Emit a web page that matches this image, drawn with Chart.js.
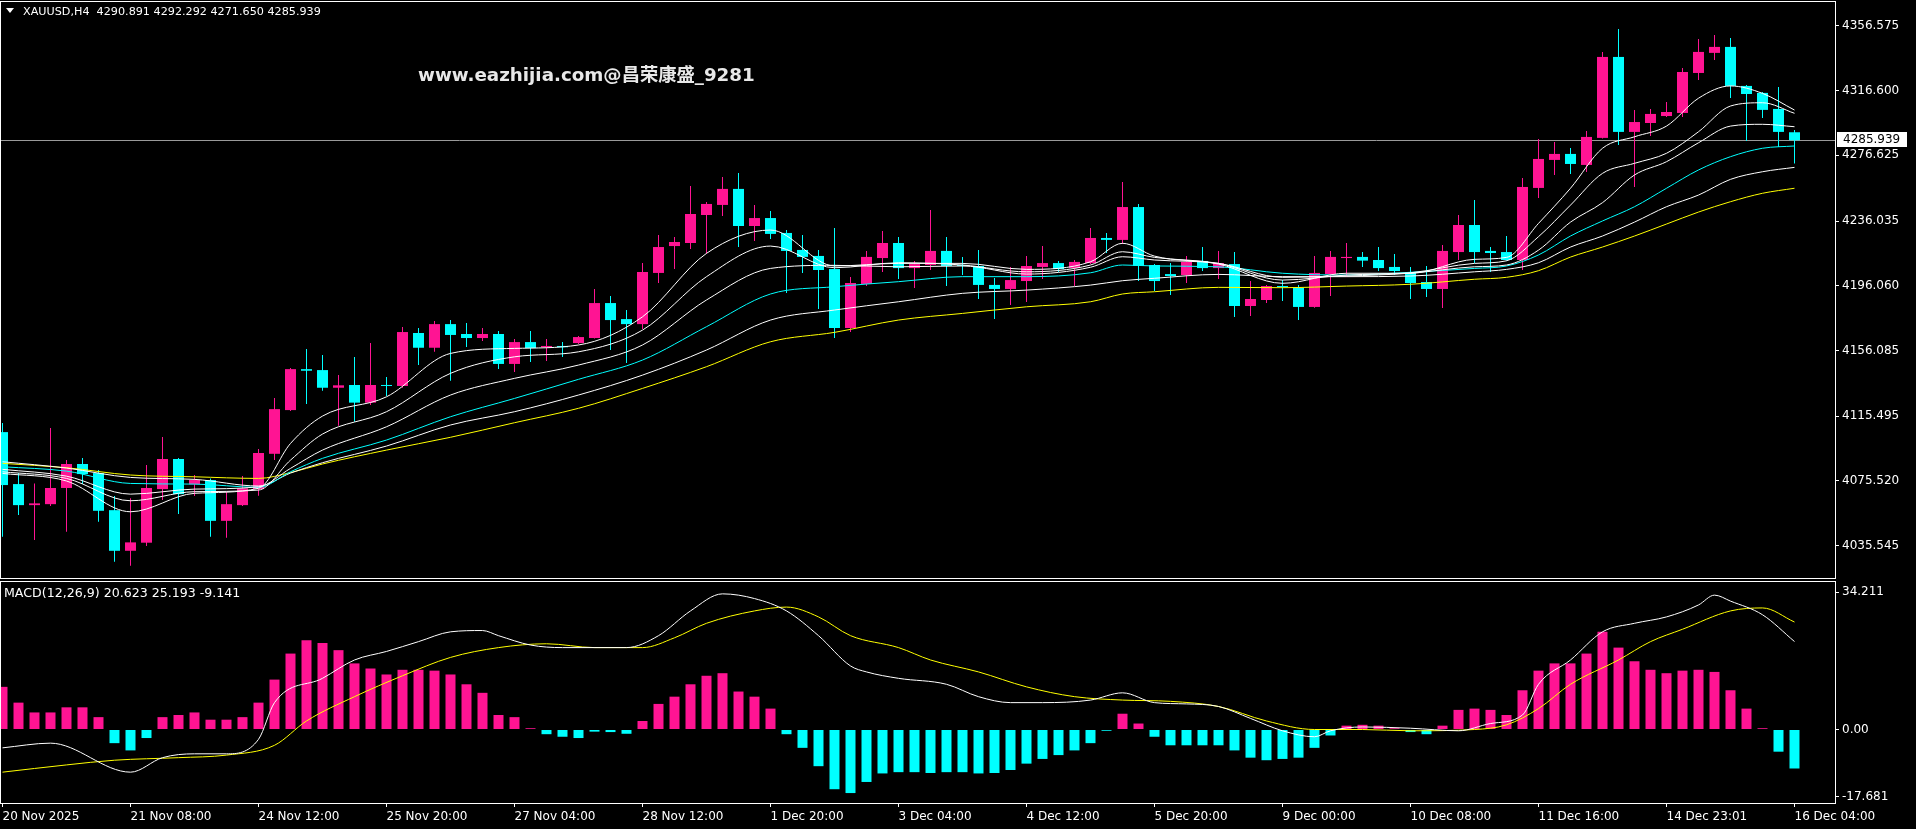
<!DOCTYPE html>
<html>
<head>
<meta charset="utf-8">
<script src="https://cdn.jsdelivr.net/npm/chart.js@4.4.1/dist/chart.umd.min.js"></script>
<style>
html, body { margin: 0; padding: 0; background: #000; overflow: hidden; }
#wrap { position: relative; width: 1916px; height: 829px; }
canvas { position: absolute; left: 0; }
#main { top: 0; }
#macd { top: 580px; }
</style>
</head>
<body>
<div id="wrap">
    <canvas id="main" width="1916" height="580"></canvas>
    <canvas id="macd" width="1916" height="249"></canvas>
</div>
<script>
// XAUUSD H4 candles, one per bar index
const opens = [4105.7, 4073.6, 4060.6, 4061.2, 4071.2, 4086.0, 4080.4, 4057.5, 4032.4, 4037.4,
    4070.5, 4089.1, 4073.4, 4076.1, 4050.9, 4060.6, 4070.5, 4092.3, 4119.3, 4144.6,
    4144.0, 4133.1, 4134.8, 4123.9, 4134.8, 4134.2, 4166.9, 4157.8, 4172.4, 4166.3,
    4163.8, 4166.3, 4147.8, 4161.3, 4158.1, 4158.9, 4160.7, 4163.8, 4185.4, 4175.5,
    4172.4, 4204.0, 4220.6, 4222.5, 4239.8, 4246.0, 4255.9, 4233.0, 4237.9, 4228.7,
    4218.2, 4214.5, 4206.4, 4170.0, 4197.2, 4213.2, 4222.5, 4207.0, 4208.9, 4217.6,
    4208.9, 4208.3, 4196.6, 4194.1, 4199.0, 4207.7, 4210.1, 4207.0, 4210.1, 4225.6,
    4224.4, 4244.7, 4208.9, 4203.3, 4202.7, 4211.4, 4207.0, 4209.5, 4183.6, 4187.3,
    4195.9, 4194.7, 4183.0, 4203.3, 4213.2, 4213.9, 4212.0, 4207.7, 4204.6, 4198.4,
    4194.1, 4216.9, 4233.6, 4217.6, 4216.9, 4212.0, 4256.5, 4273.8, 4277.5, 4270.7,
    4287.4, 4337.4, 4291.1, 4296.6, 4300.9, 4302.8, 4327.5, 4339.9, 4343.6, 4319.5,
    4315.2, 4305.3, 4290.891];
const highs = [4111.3, 4080.4, 4074.0, 4108.2, 4088.4, 4089.7, 4082.3, 4066.2, 4064.8, 4085.4,
    4102.7, 4089.7, 4079.2, 4077.1, 4068.9, 4078.6, 4095.2, 4126.7, 4145.3, 4157.0,
    4153.3, 4141.0, 4152.1, 4160.7, 4139.7, 4170.6, 4170.0, 4174.3, 4174.9, 4173.1,
    4170.0, 4168.1, 4163.2, 4168.1, 4163.2, 4161.3, 4165.0, 4194.1, 4189.8, 4181.1,
    4210.1, 4227.4, 4226.2, 4257.7, 4247.8, 4263.3, 4265.7, 4246.0, 4242.3, 4230.5,
    4227.4, 4218.2, 4231.8, 4201.5, 4217.6, 4229.9, 4226.2, 4211.4, 4242.9, 4226.2,
    4213.9, 4218.2, 4200.9, 4207.7, 4214.5, 4220.6, 4211.4, 4212.0, 4231.8, 4228.7,
    4260.2, 4246.6, 4209.5, 4210.1, 4214.5, 4220.0, 4217.6, 4216.9, 4199.0, 4196.6,
    4199.6, 4196.6, 4214.5, 4217.6, 4222.5, 4216.9, 4220.0, 4215.7, 4207.7, 4208.3,
    4221.3, 4239.8, 4249.0, 4220.0, 4226.8, 4262.6, 4286.7, 4284.9, 4281.2, 4291.7,
    4340.5, 4354.7, 4304.7, 4305.3, 4309.6, 4330.6, 4348.5, 4351.0, 4349.1, 4320.1,
    4315.8, 4318.9, 4292.292];
const lows = [4041.1, 4054.5, 4039.0, 4060.0, 4044.2, 4073.6, 4050.3, 4025.6, 4023.2, 4035.3,
    4063.7, 4055.1, 4066.2, 4041.1, 4040.4, 4060.0, 4066.4, 4088.4, 4118.7, 4123.0,
    4131.2, 4109.6, 4112.1, 4122.4, 4128.0, 4133.1, 4147.1, 4155.4, 4137.4, 4158.3,
    4162.0, 4144.6, 4142.8, 4149.0, 4149.6, 4152.1, 4160.1, 4163.5, 4156.4, 4148.4,
    4169.4, 4197.8, 4206.4, 4218.8, 4215.9, 4239.2, 4220.0, 4223.7, 4225.0, 4191.6,
    4204.0, 4181.7, 4163.8, 4167.5, 4195.9, 4204.6, 4200.3, 4194.7, 4205.8, 4195.9,
    4202.7, 4187.9, 4175.5, 4184.2, 4186.1, 4200.3, 4204.6, 4195.9, 4209.5, 4216.3,
    4221.9, 4199.0, 4192.8, 4190.4, 4197.8, 4205.2, 4200.3, 4176.8, 4177.4, 4185.4,
    4186.7, 4174.9, 4182.5, 4189.8, 4201.5, 4207.7, 4205.2, 4202.7, 4187.9, 4189.1,
    4182.3, 4212.0, 4210.1, 4204.6, 4211.5, 4205.8, 4250.3, 4264.5, 4265.1, 4266.4,
    4287.0, 4283.0, 4257.1, 4288.6, 4300.3, 4300.3, 4323.2, 4335.5, 4312.1, 4285.5,
    4299.7, 4281.8, 4271.650];
const closes = [4073.0, 4060.6, 4061.7, 4071.2, 4086.0, 4079.8, 4057.1, 4032.4, 4037.6, 4071.2,
    4089.1, 4067.4, 4076.1, 4050.9, 4061.2, 4071.0, 4092.8, 4119.9, 4144.6, 4143.6,
    4133.1, 4134.6, 4123.9, 4134.8, 4134.2, 4167.5, 4157.8, 4172.4, 4165.7, 4163.8,
    4166.3, 4147.8, 4161.3, 4157.6, 4158.9, 4158.1, 4164.4, 4185.4, 4174.9, 4172.4,
    4204.6, 4220.0, 4223.1, 4240.4, 4246.6, 4255.9, 4233.0, 4237.9, 4228.1, 4217.6,
    4213.9, 4205.8, 4170.0, 4197.8, 4213.9, 4222.5, 4207.0, 4209.5, 4217.6, 4208.3,
    4208.3, 4196.6, 4194.1, 4199.6, 4208.3, 4210.1, 4206.4, 4210.8, 4225.6, 4224.4,
    4244.7, 4208.3, 4199.0, 4202.1, 4210.8, 4207.0, 4210.1, 4183.6, 4187.9, 4195.9,
    4195.3, 4183.0, 4204.0, 4213.9, 4213.9, 4211.6, 4207.0, 4205.2, 4197.8, 4194.1,
    4217.6, 4233.6, 4216.9, 4216.3, 4212.0, 4257.1, 4274.4, 4277.5, 4271.3, 4288.0,
    4337.4, 4291.1, 4297.2, 4302.2, 4303.4, 4328.1, 4340.5, 4343.6, 4319.5, 4314.5,
    4304.7, 4291.1, 4285.939];

// moving averages, read at these bar indices
const maIdx = [0, 4, 8, 12, 16, 18, 20, 24, 28, 32, 36, 40, 44, 48, 52, 56, 60, 64, 68, 70,
    72, 76, 80, 84, 88, 92, 94, 96, 98, 100, 102, 104, 106, 108, 110, 112];
const ma1 = [4080.2, 4075.5, 4056.5, 4067.9, 4071.0, 4098.7, 4115.6, 4127.5, 4154.3, 4157.4,
    4159.5, 4176.9, 4216.1, 4230.5, 4208.3, 4209.9, 4209.9, 4206.2, 4210.9, 4222.3,
    4214.4, 4209.5, 4197.6, 4203.8, 4203.8, 4212.4, 4213.6, 4234.6, 4256.3, 4281.0,
    4288.1, 4294.7, 4311.9, 4319.5, 4314.9, 4304.6];
const ma2 = [4081.2, 4077.1, 4063.3, 4068.9, 4069.9, 4088.4, 4104.5, 4118.3, 4142.0, 4152.2,
    4155.3, 4168.7, 4201.7, 4220.6, 4207.2, 4210.3, 4208.9, 4204.7, 4208.9, 4217.1,
    4213.6, 4209.9, 4199.6, 4202.7, 4204.1, 4209.9, 4211.5, 4226.4, 4245.9, 4265.5,
    4271.7, 4277.9, 4291.2, 4307.1, 4309.1, 4302.6];
const ma3 = [4082.7, 4078.5, 4067.4, 4070.5, 4071.9, 4083.3, 4094.6, 4109.0, 4128.6, 4138.9,
    4147.1, 4159.5, 4187.3, 4206.8, 4208.7, 4207.8, 4208.3, 4203.3, 4207.5, 4214.0,
    4212.0, 4209.9, 4201.3, 4202.1, 4203.8, 4207.8, 4208.9, 4218.1, 4235.4, 4247.4,
    4264.5, 4272.7, 4284.4, 4294.7, 4295.8, 4294.3];
const ma4 = [4084.3, 4081.6, 4074.0, 4073.6, 4071.6, 4081.2, 4089.5, 4100.8, 4115.2, 4126.5,
    4138.3, 4150.2, 4170.8, 4191.0, 4195.5, 4198.6, 4201.7, 4201.7, 4204.1, 4208.9,
    4208.3, 4207.8, 4203.8, 4202.7, 4204.4, 4206.8, 4208.3, 4215.1, 4226.8, 4236.1,
    4244.9, 4256.3, 4267.6, 4275.8, 4281.0, 4282.4];
const ma5 = [4087.4, 4083.5, 4077.7, 4076.5, 4072.4, 4080.4, 4086.8, 4097.1, 4110.1, 4118.3,
    4128.6, 4140.9, 4156.4, 4174.9, 4181.1, 4186.2, 4191.4, 4193.4, 4196.5, 4199.2,
    4200.7, 4203.1, 4201.7, 4201.7, 4202.1, 4204.7, 4206.2, 4210.3, 4220.0, 4226.8,
    4235.4, 4244.9, 4252.1, 4261.8, 4266.5, 4269.2];
const ma6 = [4086.4, 4083.7, 4079.2, 4078.1, 4077.1, 4080.7, 4086.0, 4094.6, 4102.5, 4111.5,
    4120.4, 4132.7, 4146.1, 4161.5, 4167.3, 4174.9, 4179.0, 4183.1, 4186.2, 4191.0,
    4192.4, 4195.1, 4194.9, 4195.9, 4197.0, 4200.1, 4201.3, 4205.4, 4213.8, 4220.0,
    4226.8, 4234.2, 4241.6, 4248.0, 4253.2, 4256.3];

// MACD(12,26,9)
const macdHist = [10.0, 6.3, 4.0, 4.0, 5.2, 5.2, 2.9, -3.2, -4.9, -2.0,
    2.9, 3.4, 4.0, 2.3, 2.3, 2.9, 6.3, 11.7, 17.8, 20.9,
    20.3, 18.6, 15.5, 14.3, 12.9, 14.0, 14.0, 13.8, 12.9, 10.6,
    8.6, 3.4, 2.9, 0.3, -1.1, -1.7, -2.0, -0.5, -0.6, -1.0,
    2.0, 6.0, 7.7, 10.6, 12.6, 13.2, 8.9, 7.7, 4.9, -1.1,
    -4.3, -8.6, -14.0, -14.9, -12.3, -10.3, -10.0, -10.0, -10.2, -10.0,
    -10.0, -10.3, -10.2, -9.5, -8.0, -6.9, -6.0, -4.9, -3.2, -0.3,
    3.7, 1.4, -1.7, -3.7, -3.7, -3.7, -3.7, -4.9, -6.6, -7.2,
    -6.9, -6.6, -4.3, -1.4, 0.9, 1.1, 0.9, 0.3, -0.6, -1.1,
    0.9, 4.6, 4.9, 4.6, 3.4, 9.2, 13.8, 15.5, 15.5, 17.8,
    22.9, 19.2, 16.0, 14.0, 13.2, 13.8, 14.0, 13.5, 9.2, 4.9,
    0.3, -5.2, -9.141];
const difIdx = [0, 3, 8, 10, 12, 14, 16, 17, 20, 22, 24, 26, 28, 30, 31, 33, 35, 39, 41, 43,
    45, 47, 49, 51, 53, 54, 56, 59, 61, 63, 65, 68, 70, 72, 74, 76, 78, 80, 82, 83,
    85, 88, 91, 93, 95, 96, 98, 100, 102, 104, 106, 107, 108, 110, 112];
const difVals = [-4.3, -3.2, -10.0, -6.6, -5.7, -5.7, -2.3, 6.3, 12.0, 16.3, 18.3, 20.6, 22.9, 23.2, 22.0, 19.8, 19.2, 19.2, 22.0, 27.8,
    31.8, 30.7, 27.8, 22.0, 14.9, 13.5, 12.0, 10.6, 7.7, 6.3, 6.3, 6.9, 8.6, 6.3, 6.0, 5.4, 2.6, -0.3, -1.7, -0.3,
    0.6, 0.3, -0.3, 1.4, 3.4, 10.6, 16.3, 22.9, 24.9, 26.4, 29.2, 31.5, 30.1, 26.9, 20.623];
const deaIdx = [0, 4, 7, 11, 14, 17, 19, 22, 25, 28, 31, 34, 37, 40, 42, 44, 47, 49, 51, 53,
    56, 58, 61, 64, 67, 70, 73, 76, 79, 82, 85, 88, 92, 94, 96, 98, 101, 103, 105, 108, 110, 112];
const deaVals = [-10.0, -8.3, -7.2, -6.6, -6.0, -3.7, 2.0, 7.7, 12.6, 16.9, 19.2, 20.1, 19.2, 19.2, 21.5, 24.9, 27.8, 28.7, 26.4, 22.0,
    19.2, 16.3, 13.5, 10.0, 7.7, 6.9, 6.6, 5.4, 2.0, 0.0, 0.0, -0.3, 0.0, 1.1, 4.9, 10.6, 16.3, 20.6, 23.5, 27.8, 28.5, 25.193];

// axis labels
const priceTicks = [4356.575, 4316.600, 4276.625, 4236.035, 4196.060, 4156.085, 4115.495, 4075.520, 4035.545];
const macdTickLabels = ['34.211', '0.00', '-17.681'];
const macdTickPos = [32.17, 0, -15.76];
const timeTickIdx = [0, 8, 16, 24, 32, 40, 48, 56, 64, 72, 80, 88, 96, 104, 112];
const timeLabels = ['20 Nov 2025', '21 Nov 08:00', '24 Nov 12:00', '25 Nov 20:00', '27 Nov 04:00',
    '28 Nov 12:00', '1 Dec 20:00', '3 Dec 04:00', '4 Dec 12:00', '5 Dec 20:00',
    '9 Dec 00:00', '10 Dec 08:00', '11 Dec 16:00', '14 Dec 23:01', '16 Dec 04:00'];

const FONT = { family: 'DejaVu Sans', size: 12 };
const UP = '#ff1493', DOWN = '#00ffff';
const xMin = -0.09375;
const xMax = xMin + 1834 / 16;
const lastClose = closes[closes.length - 1];
const candleColors = closes.map((c, i) => c >= opens[i] ? UP : DOWN);

function lineSet(idx, vals, color) {
    return {
        type: 'line',
        data: idx.map((k, i) => ({ x: k, y: vals[i] })),
        borderColor: color,
        borderWidth: 1,
        pointRadius: 0,
        cubicInterpolationMode: 'monotone',
        order: 0
    };
}

// no auto padding for edge labels: the plot must fill its panel
function noPad(s) {
    s.paddingTop = 0;
    s.paddingBottom = 0;
    s.paddingLeft = 0;
    s.paddingRight = 0;
}

const mainDecor = {
    id: 'mainDecor',
    beforeDatasetsDraw(chart) {
        const ctx = chart.ctx;
        const y = Math.round(chart.scales.y.getPixelForValue(lastClose)) + 0.5;
        ctx.save();
        ctx.strokeStyle = '#9a9a9a';
        ctx.lineWidth = 1;
        ctx.beginPath();
        ctx.moveTo(1, y);
        ctx.lineTo(1835, y);
        ctx.stroke();
        ctx.restore();
    },
    afterDraw(chart) {
        const ctx = chart.ctx;
        ctx.save();
        ctx.strokeStyle = '#ffffff';
        ctx.lineWidth = 1;
        ctx.strokeRect(0.5, 1.5, 1835, 577);

        // symbol header
        ctx.fillStyle = '#ffffff';
        ctx.beginPath();
        ctx.moveTo(6, 8);
        ctx.lineTo(14, 8);
        ctx.lineTo(10, 13);
        ctx.closePath();
        ctx.fill();
        ctx.font = '11.2px "DejaVu Sans"';
        ctx.textBaseline = 'middle';
        ctx.fillText('XAUUSD,H4  ' + opens[112].toFixed(3) + ' ' + highs[112].toFixed(3) + ' ' +
            lows[112].toFixed(3) + ' ' + lastClose.toFixed(3), 23, 12);

        // watermark
        ctx.fillStyle = '#e8e8e8';
        ctx.font = 'bold 18.3px "DejaVu Sans", "Noto Sans CJK SC"';
        ctx.fillText('www.eazhijia.com@昌荣康盛_9281', 418, 76);

        // current price box
        const y = Math.round(chart.scales.y.getPixelForValue(lastClose));
        ctx.fillStyle = '#ffffff';
        ctx.fillRect(1837, y - 8, 70, 15);
        ctx.fillStyle = '#000000';
        ctx.font = '12px "DejaVu Sans"';
        ctx.fillText(lastClose.toFixed(3), 1843, y);
        ctx.restore();
    }
};

const macdDecor = {
    id: 'macdDecor',
    afterDraw(chart) {
        const ctx = chart.ctx;
        ctx.save();
        ctx.strokeStyle = '#ffffff';
        ctx.lineWidth = 1;
        ctx.strokeRect(0.5, 1.5, 1835, 222);
        ctx.fillStyle = '#ffffff';
        ctx.font = '12.6px "DejaVu Sans"';
        ctx.textBaseline = 'middle';
        ctx.fillText('MACD(12,26,9) ' + difVals[difVals.length - 1].toFixed(3) + ' ' +
            deaVals[deaVals.length - 1].toFixed(3) + ' ' + macdHist[macdHist.length - 1].toFixed(3), 4, 14);
        ctx.restore();
    }
};

new Chart(document.getElementById('main'), {
    type: 'bar',
    data: {
        datasets: [
            lineSet(maIdx, ma1, '#ffffff'),
            lineSet(maIdx, ma2, '#ffffff'),
            lineSet(maIdx, ma3, '#ffffff'),
            lineSet(maIdx, ma4, '#00ffff'),
            lineSet(maIdx, ma5, '#ffffff'),
            lineSet(maIdx, ma6, '#ffff00'),
            {
                data: opens.map((o, i) => ({ x: i, y: [o, closes[i]] })),
                backgroundColor: candleColors,
                barThickness: 11,
                minBarLength: 1,
                grouped: false,
                inflateAmount: 0,
                order: 1
            },
            {
                data: lows.map((l, i) => ({ x: i, y: [l, highs[i]] })),
                backgroundColor: candleColors,
                barThickness: 1,
                grouped: false,
                inflateAmount: 0,
                order: 2
            }
        ]
    },
    options: {
        responsive: false,
        animation: false,
        layout: { padding: { left: 1, top: 2, bottom: 2, right: 0 } },
        plugins: { legend: { display: false }, tooltip: { enabled: false } },
        scales: {
            x: { type: 'linear', min: xMin, max: xMax, offset: false, display: false },
            y: {
                position: 'right',
                min: 4015.60,
                max: 4371.33,
                afterFit: s => { s.width = 81; noPad(s); },
                afterBuildTicks: s => { s.ticks = priceTicks.map(v => ({ value: v })); },
                grid: { drawOnChartArea: false, color: '#ffffff', tickLength: 4 },
                border: { display: false },
                ticks: { color: '#ffffff', font: FONT, padding: 3, callback: v => v.toFixed(3) }
            }
        }
    },
    plugins: [mainDecor]
});

new Chart(document.getElementById('macd'), {
    type: 'bar',
    data: {
        datasets: [
            lineSet(difIdx, difVals, '#ffffff'),
            lineSet(deaIdx, deaVals, '#ffff00'),
            {
                data: macdHist.map((v, i) => ({ x: i, y: v })),
                backgroundColor: macdHist.map(v => v >= 0 ? UP : DOWN),
                barThickness: 10,
                grouped: false,
                inflateAmount: 0,
                order: 1
            }
        ]
    },
    options: {
        responsive: false,
        animation: false,
        layout: { padding: { left: 1, top: 2, bottom: 0, right: 0 } },
        plugins: { legend: { display: false }, tooltip: { enabled: false } },
        scales: {
            x: {
                type: 'linear',
                min: xMin,
                max: xMax,
                offset: false,
                afterFit: s => { s.height = 26; noPad(s); },
                afterBuildTicks: s => { s.ticks = timeTickIdx.map(v => ({ value: v })); },
                grid: { drawOnChartArea: false, color: '#ffffff', tickLength: 4, offset: false },
                border: { display: false },
                ticks: {
                    color: '#ffffff', font: FONT, padding: 3, align: 'start',
                    autoSkip: false, maxRotation: 0,
                    callback: (v, i) => timeLabels[i]
                }
            },
            y: {
                position: 'right',
                min: -17.23,
                max: 34.58,
                afterFit: s => { s.width = 81; noPad(s); },
                afterBuildTicks: s => { s.ticks = macdTickPos.map(v => ({ value: v })); },
                grid: { drawOnChartArea: false, color: '#ffffff', tickLength: 4 },
                border: { display: false },
                ticks: { color: '#ffffff', font: FONT, padding: 3, callback: (v, i) => macdTickLabels[i] }
            }
        }
    },
    plugins: [macdDecor]
});
</script>
</body>
</html>
